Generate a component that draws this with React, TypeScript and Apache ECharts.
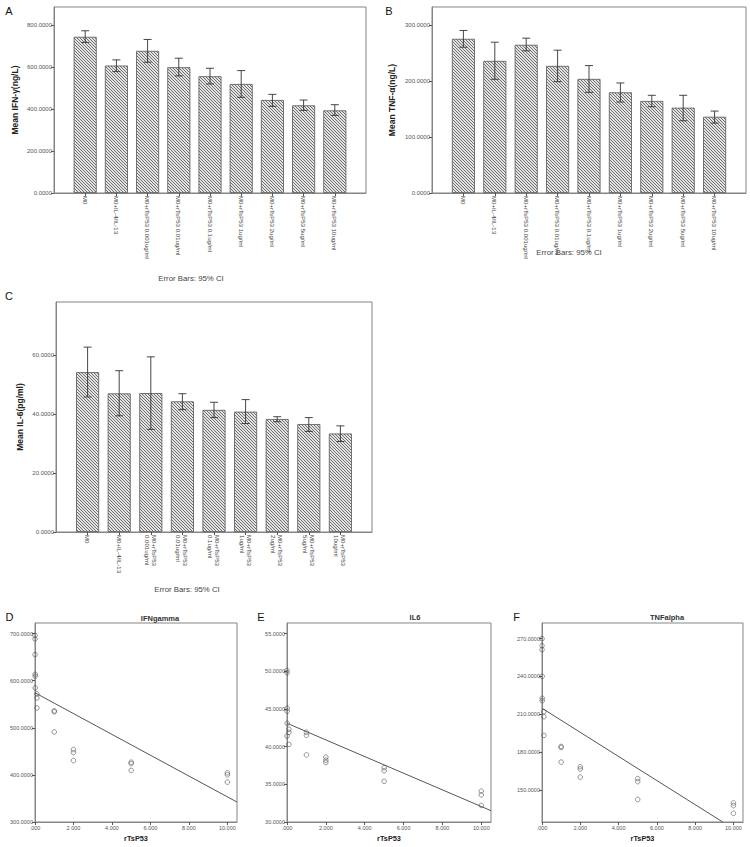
import React, { useEffect, useRef } from 'react';
import * as echarts from 'echarts';

// ---------- Bar panels (A, B, C) ----------
const categoriesAB = [
  'M0',
  'M0+IL-4/IL-13',
  'M0+rTsP53 0.001ug/ml',
  'M0+rTsP53 0.01ug/ml',
  'M0+rTsP53 0.1ug/ml',
  'M0+rTsP53 1ug/ml',
  'M0+rTsP53 2ug/ml',
  'M0+rTsP53 5ug/ml',
  'M0+rTsP53 10ug/ml',
];
const categoriesC = [
  'M0',
  'M0+IL-4/IL-13',
  'M0+rTsP53\n0.001ug/ml',
  'M0+rTsP53\n0.01ug/ml',
  'M0+rTsP53\n0.1ug/ml',
  'M0+rTsP53\n1ug/ml',
  'M0+rTsP53\n2ug/ml',
  'M0+rTsP53\n5ug/ml',
  'M0+rTsP53\n10ug/ml',
];

const ifnMean = [745.7, 608.4, 678.6, 600.4, 557.3, 520.6, 443.9, 418.4, 394.4];
const ifnLow = [718.6, 579.6, 624.4, 558.9, 520.6, 456.7, 413.6, 394.4, 370.5];
const ifnHigh = [774.5, 635.5, 733.0, 643.5, 595.6, 584.4, 471.0, 443.9, 421.6];

const tnfMean = [276.0, 236.5, 265.3, 227.5, 204.2, 180.2, 164.7, 152.7, 136.5];
const tnfLow = [261.0, 203.6, 254.5, 199.4, 180.2, 162.9, 154.5, 129.3, 125.1];
const tnfHigh = [291.0, 270.0, 277.2, 255.7, 228.1, 197.0, 174.9, 174.9, 146.7];

const il6Mean = [54.2, 47.0, 47.1, 44.3, 41.4, 40.8, 38.3, 36.6, 33.4];
const il6Low = [45.8, 39.4, 34.8, 41.5, 38.8, 36.8, 37.4, 34.1, 30.7];
const il6High = [62.7, 54.7, 59.4, 46.9, 44.0, 44.9, 39.1, 38.8, 36.0];

const ifnTicks = [0, 200, 400, 600, 800];
const tnfTicks = [0, 100, 200, 300];
const il6Ticks = [0, 20, 40, 60];

// ---------- Scatter panels (D, E, F) ----------
const doseX = [0.001, 0.001, 0.001, 0.01, 0.01, 0.01, 0.1, 0.1, 0.1, 1, 1, 1, 2, 2, 2, 5, 5, 5, 10, 10, 10];
const ifnPoints = [695.9, 688.8, 655.5, 613.7, 609.5, 584.7, 572.0, 563.5, 542.2, 536.0, 534.0, 491.2, 453.8, 447.5, 430.5, 427.0, 424.0, 409.4, 404.4, 400.2, 384.7];
const il6Points = [50.1, 49.8, 41.4, 45.1, 44.7, 43.1, 42.3, 41.9, 40.3, 41.9, 41.5, 38.9, 38.6, 38.2, 37.9, 37.2, 36.8, 35.4, 34.1, 33.6, 32.2];
const tnfPoints = [270.0, 264.4, 261.3, 240.1, 222.7, 220.8, 212.1, 208.1, 193.3, 184.5, 183.7, 172.1, 168.4, 166.6, 160.2, 159.0, 156.6, 142.4, 139.7, 137.6, 131.5];

const ifnFit = [[0, 574.4], [10.5, 342.3]];
const il6Fit = [[0, 43.1], [10.5, 31.5]];
const tnfFit = [[0, 214.8], [9.44, 124.6]];

const doseTicks = [0, 2, 4, 6, 8, 10];
const ifnScatTicks = [300, 400, 500, 600, 700];
const il6ScatTicks = [30, 35, 40, 45, 50, 55];
const tnfScatTicks = [150, 180, 210, 240, 270];

const FONT = 'Liberation Sans, Arial, sans-serif';
const FRAME = '#858585';

function makeHatch(): any {
  const c = document.createElement('canvas');
  c.width = 3;
  c.height = 3;
  const ctx = c.getContext('2d');
  if (!ctx) return '#bdbdbd';
  ctx.fillStyle = '#e4e4e4';
  ctx.fillRect(0, 0, 3, 3);
  ctx.fillStyle = '#6e6e6e';
  for (let i = 0; i < 3; i++) ctx.fillRect(i, i, 1, 1);
  return { image: c, repeat: 'repeat' };
}

function buildOption() {
  const grids: any[] = [];
  const xAxes: any[] = [];
  const yAxes: any[] = [];
  const series: any[] = [];
  const hatch = makeHatch();

  const barPanel = (
    g: { left: number; top: number; width: number; height: number },
    cats: string[],
    mean: number[],
    low: number[],
    high: number[],
    yMax: number,
    ticks: number[],
    yName: string,
    nameGap: number
  ) => {
    const gi = grids.length;
    grids.push({ ...g, show: true, borderColor: FRAME, borderWidth: 1, backgroundColor: 'transparent' });
    const n = cats.length;
    xAxes.push({
      type: 'category',
      gridIndex: gi,
      data: ['', ...cats, ''],
      boundaryGap: false,
      axisLine: { lineStyle: { color: FRAME, width: 1 } },
      axisTick: {
        interval: (i: number) => i > 0 && i <= n,
        length: 3,
        lineStyle: { color: '#555' },
      },
      axisLabel: {
        interval: 0,
        rotate: -90,
        fontSize: 6.1,
        lineHeight: 7,
        color: '#444',
        margin: 3,
        fontFamily: FONT,
      },
      splitLine: { show: false },
    });
    yAxes.push({
      type: 'value',
      gridIndex: gi,
      min: 0,
      max: yMax,
      axisLine: { show: true, lineStyle: { color: FRAME, width: 1 } },
      axisTick: { show: true, length: 3, customValues: ticks, lineStyle: { color: '#555' } },
      axisLabel: {
        customValues: ticks,
        formatter: (v: any) => Number(v).toFixed(4),
        fontSize: 6,
        color: '#555',
        margin: 2,
        fontFamily: FONT,
      },
      splitLine: { show: false },
      name: yName,
      nameLocation: 'middle',
      nameGap,
      nameTextStyle: { fontWeight: 'bold', fontSize: 8.5, color: '#222', fontFamily: FONT },
    });
    series.push({
      type: 'bar',
      xAxisIndex: gi,
      yAxisIndex: gi,
      data: ['-', ...mean, '-'],
      barWidth: 23,
      itemStyle: {
        color: hatch,
        borderColor: '#555',
        borderWidth: 0.8,
      },
    });
    series.push({
      type: 'custom',
      xAxisIndex: gi,
      yAxisIndex: gi,
      data: low.map((l, i) => [i + 1, l, high[i]]),
      encode: { x: 0, y: [1, 2] },
      z: 10,
      renderItem: (_p: any, api: any) => {
        const x = api.value(0);
        const lo = api.coord([x, api.value(1)]);
        const hi = api.coord([x, api.value(2)]);
        const hw = 4;
        const st = { stroke: '#333', lineWidth: 0.9 };
        return {
          type: 'group',
          children: [
            { type: 'line', shape: { x1: lo[0], y1: lo[1], x2: hi[0], y2: hi[1] }, style: st },
            { type: 'line', shape: { x1: lo[0] - hw, y1: lo[1], x2: lo[0] + hw, y2: lo[1] }, style: st },
            { type: 'line', shape: { x1: hi[0] - hw, y1: hi[1], x2: hi[0] + hw, y2: hi[1] }, style: st },
          ],
        };
      },
    });
  };

  const scatterPanel = (
    g: { left: number; top: number; width: number; height: number },
    pts: number[],
    fit: number[][],
    yMin: number,
    yMax: number,
    ticks: number[]
  ) => {
    const gi = grids.length;
    grids.push({ ...g, show: true, borderColor: FRAME, borderWidth: 1, backgroundColor: 'transparent' });
    xAxes.push({
      type: 'value',
      gridIndex: gi,
      min: 0,
      max: 10.5,
      axisLine: { show: true, lineStyle: { color: FRAME, width: 1 } },
      axisTick: { show: true, length: 3, customValues: doseTicks, lineStyle: { color: '#555' } },
      axisLabel: {
        customValues: doseTicks,
        formatter: (v: any) => (Number(v) === 0 ? '.000' : Number(v).toFixed(3)),
        fontSize: 5.5,
        color: '#555',
        margin: 3,
        fontFamily: FONT,
      },
      splitLine: { show: false },
      name: 'rTsP53',
      nameLocation: 'middle',
      nameGap: 13,
      nameTextStyle: { fontWeight: 'bold', fontSize: 7.3, color: '#222', fontFamily: FONT },
    });
    yAxes.push({
      type: 'value',
      gridIndex: gi,
      min: yMin,
      max: yMax,
      axisLine: { show: true, lineStyle: { color: FRAME, width: 1 } },
      axisTick: { show: true, length: 3, customValues: ticks, lineStyle: { color: '#555' } },
      axisLabel: {
        customValues: ticks,
        formatter: (v: any) => Number(v).toFixed(4),
        fontSize: 5.5,
        color: '#555',
        margin: 2,
        fontFamily: FONT,
      },
      splitLine: { show: false },
    });
    series.push({
      type: 'scatter',
      xAxisIndex: gi,
      yAxisIndex: gi,
      symbol: 'circle',
      symbolSize: 4.6,
      itemStyle: { color: 'rgba(255,255,255,0)', borderColor: '#444', borderWidth: 0.7 },
      data: doseX.map((x, i) => [x, pts[i]]),
      z: 5,
    });
    series.push({
      type: 'line',
      xAxisIndex: gi,
      yAxisIndex: gi,
      data: fit,
      symbol: 'none',
      clip: true,
      lineStyle: { color: '#555', width: 1 },
      z: 4,
    });
  };

  barPanel({ left: 54, top: 7, width: 312, height: 186 }, categoriesAB, ifnMean, ifnLow, ifnHigh, 888, ifnTicks, 'Mean IFN-γ(ng/L)', 35);
  barPanel({ left: 432, top: 7, width: 314, height: 186 }, categoriesAB, tnfMean, tnfLow, tnfHigh, 333, tnfTicks, 'Mean TNF-α(ng/L)', 36);
  barPanel({ left: 56, top: 302, width: 316, height: 230 }, categoriesC, il6Mean, il6Low, il6High, 78, il6Ticks, 'Mean IL-6(pg/ml)', 32);

  scatterPanel({ left: 35, top: 623, width: 202, height: 199 }, ifnPoints, ifnFit, 300, 722.5, ifnScatTicks);
  scatterPanel({ left: 287, top: 623, width: 204, height: 199 }, il6Points, il6Fit, 30, 56.4, il6ScatTicks);
  scatterPanel({ left: 542, top: 623, width: 201, height: 199 }, tnfPoints, tnfFit, 124.6, 282.4, tnfScatTicks);

  const txt = (text: string, x: number, y: number, size: number, bold = false, fill = '#111') => ({
    type: 'text',
    x,
    y,
    silent: true,
    style: {
      text,
      fontSize: size,
      fontWeight: bold ? 'bold' : 'normal',
      fontFamily: FONT,
      fill,
      align: 'center',
      verticalAlign: 'middle',
    },
  });

  const graphic = [
    txt('A', 9, 10.5, 11),
    txt('B', 389, 10.5, 11),
    txt('C', 9, 295.5, 11),
    txt('D', 9.5, 617, 11),
    txt('E', 261, 616.5, 11),
    txt('F', 516.5, 616.5, 11),
    txt('Error Bars: 95% CI', 191, 278, 7.8, false, '#444'),
    txt('Error Bars: 95% CI', 569, 252, 7.8, false, '#444'),
    txt('Error Bars: 95% CI', 187, 589, 7.8, false, '#444'),
    txt('IFNgamma', 160, 618, 7.5, true, '#333'),
    txt('IL6', 415, 617, 7.5, true, '#333'),
    txt('TNFalpha', 667, 617, 7.5, true, '#333'),
  ];

  return {
    animation: false,
    backgroundColor: '#ffffff',
    textStyle: { fontFamily: FONT },
    grid: grids,
    xAxis: xAxes,
    yAxis: yAxes,
    series,
    graphic,
  };
}

export default function App() {
  const ref = useRef<HTMLDivElement>(null);
  useEffect(() => {
    if (!ref.current) return;
    const chart = echarts.init(ref.current, undefined, { renderer: 'svg' });
    chart.setOption(buildOption() as any);
    return () => chart.dispose();
  }, []);
  return (
    <div
      ref={ref}
      style={{ position: 'absolute', left: 0, top: 0, width: 750, height: 847, background: '#fff' }}
    />
  );
}
